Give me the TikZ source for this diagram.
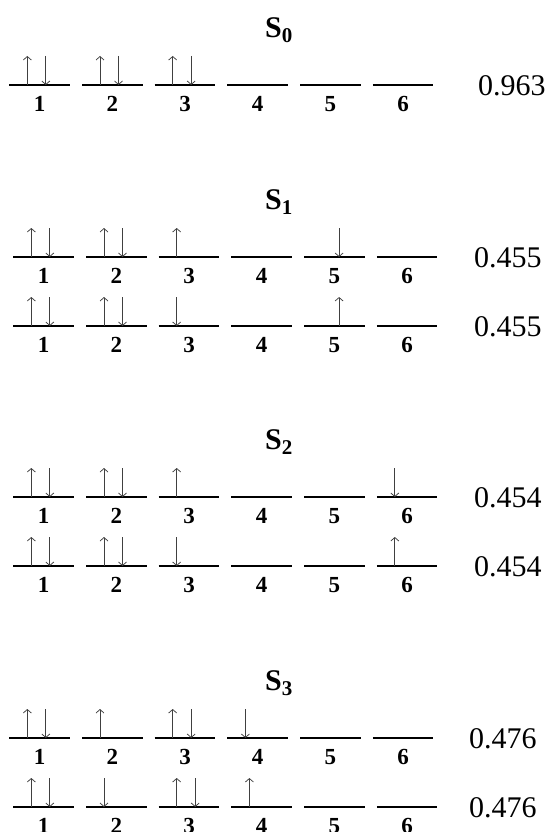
\documentclass[tikz,border=0pt]{standalone}
\usepackage{fontspec}
\setmainfont{Liberation Serif}
\usetikzlibrary{arrows.meta}
\tikzset{
  lvl/.style={line width=1.1pt, black},
  spin/.style={line width=0.75pt, draw=black!75, -{Straight Barb[length=3.5pt,width=8pt,line width=0.75pt]}},
  num/.style={font=\bfseries\fontsize{23}{27}\selectfont, inner sep=0pt},
  val/.style={font=\fontsize{30}{36}\selectfont, inner sep=0pt, anchor=west},
  ttl/.style={font=\bfseries\fontsize{30}{36}\selectfont, inner sep=0pt},
}
% #1 name, #2 y, #3 dx, #4 codes: 0 empty, 1 pair, 2 up, 3 down, 4 up (mid), 5 down (mid)
\newcommand\mrow[4]{%
  \foreach \s [count=\i] in {#4} {
    \pgfmathsetmacro\xa{9.3+#3+72.7*(\i-1)}
    \draw[lvl] (\xa,#2) -- ++(60.6,0);
    \node[num] (#1-\i) at (\xa+30.3,#2+19) {\i};
    \ifcase\s
    \or
      \draw[spin] (\xa+18,#2) -- ++(0,-29);
      \draw[spin] (\xa+36.5,#2-29) -- ++(0,29);
    \or
      \draw[spin] (\xa+18,#2) -- ++(0,-29);
    \or
      \draw[spin] (\xa+18,#2-29) -- ++(0,29);
    \or
      \draw[spin] (\xa+35,#2) -- ++(0,-29);
    \or
      \draw[spin] (\xa+35,#2-29) -- ++(0,29);
    \fi
  }%
}
\begin{document}
\begin{tikzpicture}[x=1pt,y=-1pt]
\useasboundingbox (0,0) rectangle (552,832);
% S0
\node[ttl] (t0) at (279,30) {S\textsubscript{0}};
\mrow{a}{85}{0}{1,1,1,0,0,0}
\node[val] (v0) at (478,86) {0.963};
% S1
\node[ttl] (t1) at (279,202) {S\textsubscript{1}};
\mrow{b}{257}{4}{1,1,2,0,5,0}
\node[val] (v1a) at (474,258) {0.455};
\mrow{c}{326}{4}{1,1,3,0,4,0}
\node[val] (v1b) at (474,327) {0.455};
% S2
\node[ttl] (t2) at (279,442) {S\textsubscript{2}};
\mrow{d}{497}{4}{1,1,2,0,0,3}
\node[val] (v2a) at (474,498) {0.454};
\mrow{e}{566}{4}{1,1,3,0,0,2}
\node[val] (v2b) at (474,567) {0.454};
% S3
\node[ttl] (t3) at (279,683) {S\textsubscript{3}};
\mrow{f}{738}{0}{1,2,1,3,0,0}
\node[val] (v3a) at (469,739) {0.476};
\mrow{g}{807}{4}{1,3,1,2,0,0}
\node[val] (v3b) at (469,808) {0.476};
\end{tikzpicture}
\end{document}
